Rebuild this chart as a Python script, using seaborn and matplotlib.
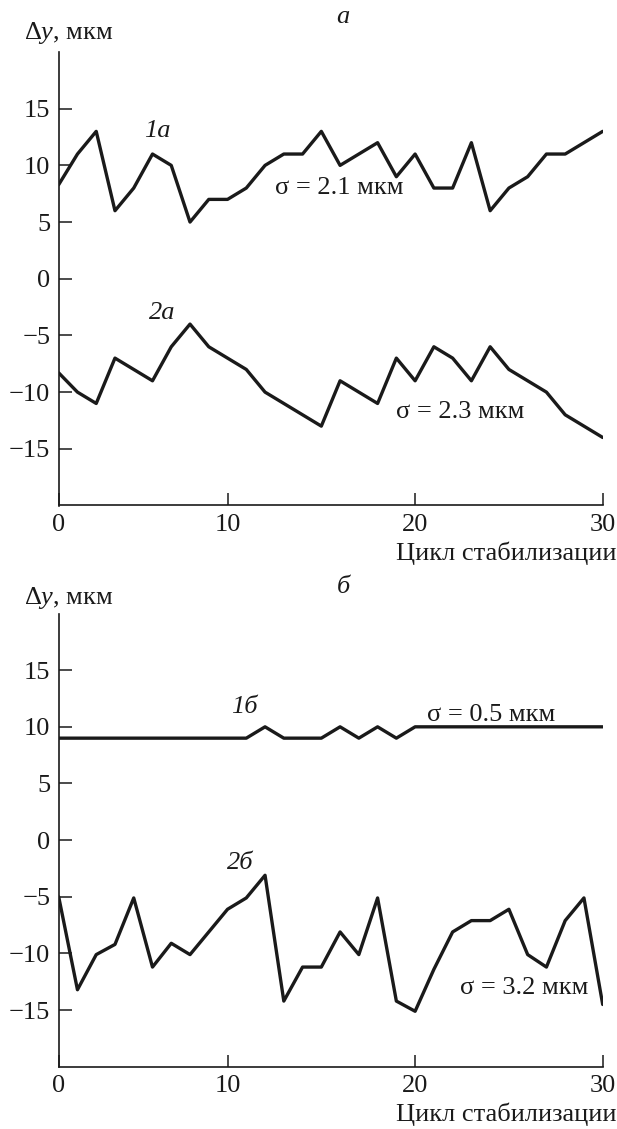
import matplotlib
matplotlib.use("Agg")
import matplotlib.pyplot as plt
import seaborn as sns
import numpy as np

cycles = list(range(1, 31))
y_1a = [8.3, 11, 13, 6, 8, 11, 10, 5, 7, 7, 8, 10, 11, 11, 13, 10, 11, 12, 9, 11,
        8, 8, 12, 6, 8, 9, 11, 11, 12, 13]
y_2a = [-8.3, -10, -11, -7, -8, -9, -6, -4, -6, -7, -8, -10, -11, -12, -13, -9, -10, -11, -7, -9,
        -6, -7, -9, -6, -8, -9, -10, -12, -13, -14]
y_1b = [9, 9, 9, 9, 9, 9, 9, 9, 9, 9, 9, 10, 9, 9, 9, 10, 9, 10, 9, 10,
        10, 10, 10, 10, 10, 10, 10, 10, 10, 10]
y_2b = [-5, -13.2, -10.1, -9.2, -5.1, -11.2, -9.1, -10.1, -8.1, -6.1, -5.1, -3.1, -14.2, -11.2,
        -11.2, -8.1, -10.1, -5.1, -14.2, -15.1, -11.4, -8.1, -7.1, -7.1, -6.1, -10.1, -11.2,
        -7.1, -5.1, -14.5]

xtick_pos = [1, 10, 20, 30]
xtick_labels = ["0", "10", "20", "30"]
ytick_vals = [-15, -10, -5, 0, 5, 10, 15]

sns.set_theme(style="ticks")
plt.rcParams["font.family"] = ["Liberation Serif", "DejaVu Serif"]
plt.rcParams["mathtext.fontset"] = "custom"
plt.rcParams["mathtext.rm"] = "Liberation Serif"
plt.rcParams["mathtext.it"] = "Liberation Serif:italic"
plt.rcParams["axes.unicode_minus"] = True

W, H = 617, 1129
fig = plt.figure(figsize=(W / 100, H / 100), dpi=100)
fig.patch.set_facecolor("white")

INK = "#1a1a1a"
FS = 19


def fx(px):
    return px / W


def fy(py):
    return 1 - py / H


def make_axes(top, bottom):
    ax = fig.add_axes([fx(58.7), fy(bottom), (602.7 - 58.7) / W, (bottom - top) / H])
    ax.set_xlim(1, 30)
    ax.set_ylim(-20, 20)
    ax.set_xticks(xtick_pos, labels=xtick_labels)
    ax.set_yticks(ytick_vals)
    ax.tick_params(direction="in", length=9, width=1.1, colors=INK, labelsize=FS, pad=6)
    for s in ["top", "right"]:
        ax.spines[s].set_visible(False)
    for s in ["left", "bottom"]:
        ax.spines[s].set_linewidth(1.2)
        ax.spines[s].set_color(INK)
    ax.set_facecolor("white")
    ax.grid(False)
    ax.set_xlabel("")
    ax.set_ylabel("")
    return ax


# top panel (a)
ax1 = make_axes(52.0, 505.5)
sns.lineplot(x=cycles, y=y_1a, ax=ax1, color=INK, linewidth=2.4)
sns.lineplot(x=cycles, y=y_2a, ax=ax1, color=INK, linewidth=2.4)
ax1.set_xlim(1, 30)
ax1.set_ylim(-20, 20)
ax1.text(6.28, 13.06, "1а", fontsize=FS, style="italic", ha="center", va="center", color=INK)
ax1.text(15.98, 7.97, "σ = 2.1 мкм", fontsize=FS, ha="center", va="center", color=INK)
ax1.text(6.53, -3.06, "2а", fontsize=FS, style="italic", ha="center", va="center", color=INK)
ax1.text(22.4, -11.74, "σ = 2.3 мкм", fontsize=FS, ha="center", va="center", color=INK)

# bottom panel (б)
ax2 = make_axes(613.5, 1066.8)
sns.lineplot(x=cycles, y=y_1b, ax=ax2, color=INK, linewidth=2.4)
sns.lineplot(x=cycles, y=y_2b, ax=ax2, color=INK, linewidth=2.4)
ax2.set_xlim(1, 30)
ax2.set_ylim(-20, 20)
ax2.text(10.9, 11.76, "1б", fontsize=FS, style="italic", ha="center", va="center", color=INK)
ax2.text(24.03, 11.0, "σ = 0.5 мкм", fontsize=FS, ha="center", va="center", color=INK)
ax2.text(10.69, -2.06, "2б", fontsize=FS, style="italic", ha="center", va="center", color=INK)
ax2.text(25.8, -13.07, "σ = 3.2 мкм", fontsize=FS, ha="center", va="center", color=INK)

# figure texts
fig.text(fx(343), fy(16.7), "а", fontsize=FS, style="italic", ha="center", va="center", color=INK)
fig.text(fx(343), fy(586.7), "б", fontsize=FS, style="italic", ha="center", va="center", color=INK)
fig.text(fx(24), fy(33), "Δ$y$, мкм", fontsize=FS, ha="left", va="center", color=INK)
fig.text(fx(24), fy(598), "Δ$y$, мкм", fontsize=FS, ha="left", va="center", color=INK)
fig.text(fx(616), fy(553), "Цикл стабилизации", fontsize=FS, ha="right", va="center", color=INK)
fig.text(fx(616), fy(1114), "Цикл стабилизации", fontsize=FS, ha="right", va="center", color=INK)

fig.savefig("out.png", dpi=100, facecolor="white")
